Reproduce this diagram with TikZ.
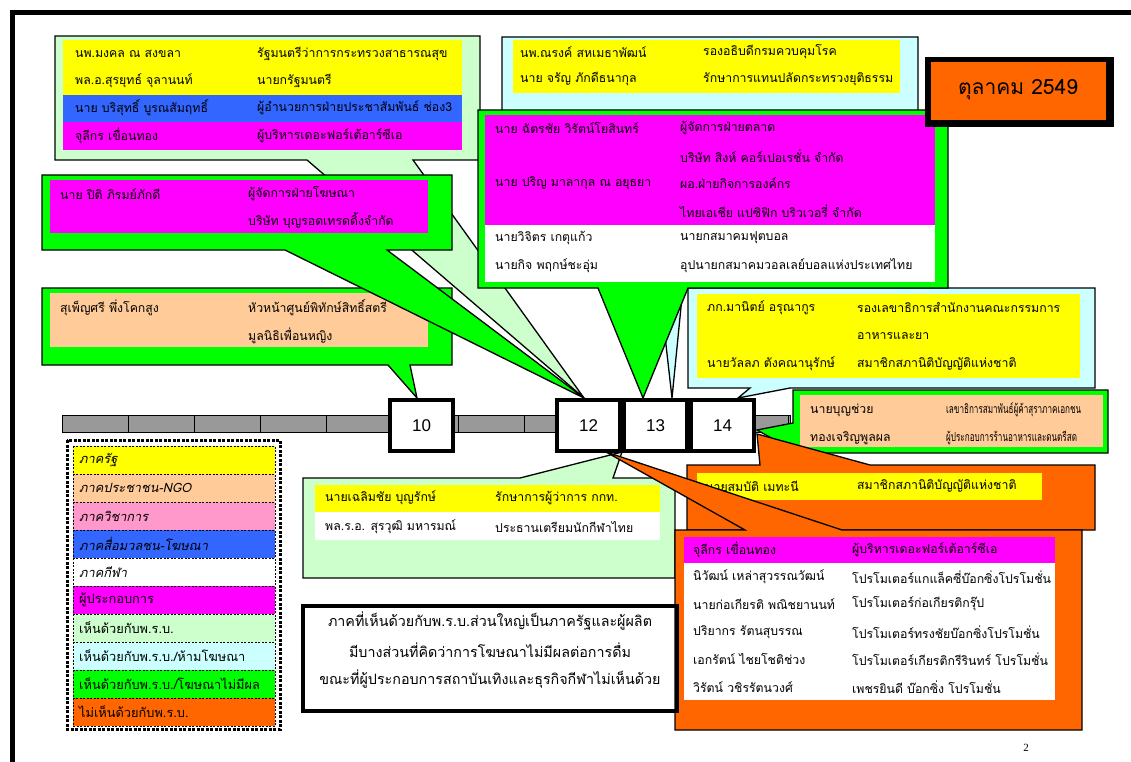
\documentclass[tikz,border=0pt]{standalone}
\usepackage{fontspec}
\newfontfamily\thai[Script=Thai]{Loma}
\newfontfamily\numfont{Liberation Sans}
\newfontfamily\pagefont{Liberation Serif}
\definecolor{cyellow}{HTML}{FFFF00}
\definecolor{cpeach}{HTML}{FFCC99}
\definecolor{cpink}{HTML}{FF99CC}
\definecolor{cblue}{HTML}{3366FF}
\definecolor{cmag}{HTML}{FF00FF}
\definecolor{cpale}{HTML}{CCFFCC}
\definecolor{ccyan}{HTML}{CCFFFF}
\definecolor{cgreen}{HTML}{00FF00}
\definecolor{corange}{HTML}{FF6600}
\definecolor{cgray}{HTML}{999999}
\begin{document}
\begin{tikzpicture}[x=1pt,y=-1pt,
  txt/.style={anchor=west,inner sep=0pt,font=\thai\fontsize{12.3}{14}\selectfont},
  ctxt/.style={inner sep=0pt,font=\thai\fontsize{14.3}{16}\selectfont},
  balloon/.style={draw=black,line width=1.3pt,line join=miter},
  daybox/.style={draw=black,line width=4pt,fill=white,minimum width=63pt,minimum height=51pt,
    inner sep=0pt,font=\numfont\fontsize{17}{19}\selectfont},
  legrow/.style={draw=black,line width=0.6pt,dash pattern=on 2pt off 1.5pt},
  legtxt/.style={anchor=west,inner sep=0pt,font=\thai\fontsize{12.8}{14}\selectfont},
  legit/.style={legtxt,font=\thai\fontsize{12.8}{14}\selectfont\itshape}]
\useasboundingbox (0,0) rectangle (1131,762);
\fill[white] (0,0) rectangle (1131,762);

% page frame
\fill[black] (10,10) rectangle (1131,15);
\fill[black] (10,10) rectangle (15,762);

% timeline bar
\filldraw[fill=cgray,draw=black,line width=0.8pt] (62,415) rectangle (790,432);
\foreach \x in {128,194,260,326,392,458,524,590,656,722,788}
  \draw[black,line width=0.8pt] (\x,415) -- (\x,432);

% pointer tips on the day boxes
\coordinate (t10) at (417,398);
\coordinate (t12) at (584,398);
\coordinate (t13) at (643,398);
\coordinate (t13r) at (672,398);
\coordinate (t14) at (738,398);
\coordinate (t14r) at (757,430);
\coordinate (t14s) at (757,434);
\coordinate (b12) at (606,452);
\coordinate (b12l) at (622,452);

% top-left balloon
\filldraw[balloon,fill=cpale] (55,36) -- (480,36) -- (480,160) -- (413,160) -- (t12) -- (307,160) -- (55,160) -- cycle;
\fill[cyellow] (63,40) rectangle (462,95);
\fill[cblue] (63,95) rectangle (462,122);
\fill[cmag] (63,122) rectangle (462,150);
\node[txt] (a1) at (75,54) {นพ.มงคล  ณ สงขลา};
\node[txt] (a2) at (257,54) {รัฐมนตรีว่าการกระทรวงสาธารณสุข};
\node[txt] (a3) at (75,81) {พล.อ.สุรยุทธ์  จุลานนท์};
\node[txt] (a4) at (257,81) {นายกรัฐมนตรี};
\node[txt] (a5) at (75,108) {นาย บริสุทธิ์ บูรณสัมฤทธิ์};
\node[txt] (a6) at (257,108) {ผู้อำนวยการฝ่ายประชาสัมพันธ์ ช่อง3};
\node[txt] (a7) at (75,136) {จุลีกร เขื่อนทอง};
\node[txt] (a8) at (257,136) {ผู้บริหารเดอะฟอร์เต้อาร์ซีเอ};

% top-middle balloon
\filldraw[balloon,fill=ccyan] (502,37) -- (918,37) -- (918,115) -- (700,115) -- (t13r) -- (640,115) -- (502,115) -- cycle;
\fill[cyellow] (513,40) rectangle (900,93);
\node[txt] (b1) at (520,52) {นพ.ณรงค์ สหเมธาพัฒน์};
\node[txt] (b2) at (703,52) {รองอธิบดีกรมควบคุมโรค};
\node[txt] (b3) at (520,79) {นาย จรัญ ภักดีธนากุล};
\node[txt] (b4) at (703,79) {รักษาการแทนปลัดกระทรวงยุติธรรม};

% right balloon
\filldraw[balloon,fill=ccyan] (688,288) -- (1095,288) -- (1095,388) -- (790,388) -- (t14) -- (750,388) -- (688,388) -- cycle;
\fill[cyellow] (697,294) rectangle (1080,378);
\node[txt] (c1) at (707,308) {ภก.มานิตย์ อรุณากูร};
\node[txt] (c2) at (857,308) {รองเลขาธิการสำนักงานคณะกรรมการ};
\node[txt] (c3) at (857,336) {อาหารและยา};
\node[txt] (c4) at (707,364) {นายวัลลภ  ตังคณานุรักษ์};
\node[txt] (c5) at (857,364) {สมาชิกสภานิติบัญญัติแห่งชาติ};

% left lower balloon
\filldraw[balloon,fill=cgreen] (42,288) -- (452,288) -- (452,365) -- (410,365) -- (t10) -- (388,365) -- (42,365) -- cycle;
\fill[cpeach] (50,293) rectangle (428,347);
\node[txt] (d1) at (60,308) {สุเพ็ญศรี พึ่งโคกสูง};
\node[txt] (d2) at (248,308) {หัวหน้าศูนย์พิทักษ์สิทธิ์สตรี};
\node[txt] (d3) at (248,336) {มูลนิธิเพื่อนหญิง};

% left upper balloon
\filldraw[balloon,fill=cgreen] (42,175) -- (452,175) -- (452,250) -- (387,250) -- (t12) -- (285,250) -- (42,250) -- cycle;
\fill[cmag] (50,180) rectangle (428,233);
\node[txt] (e1) at (60,194) {นาย ปิติ ภิรมย์ภักดี};
\node[txt] (e2) at (248,194) {ผู้จัดการฝ่ายโฆษณา};
\node[txt] (e3) at (248,221) {บริษัท บุญรอดเทรดดิ้งจำกัด};

% centre balloon
\filldraw[balloon,fill=cgreen] (478,110) -- (948,110) -- (948,288) -- (688,288) -- (t13) -- (598,288) -- (478,288) -- cycle;
\fill[cmag] (485,115) rectangle (935,225);
\fill[white] (485,225) rectangle (935,282);
\node[txt] (f1) at (495,128) {นาย ฉัตรชัย วิรัตน์โยสินทร์};
\node[txt] (f2) at (680,128) {ผู้จัดการฝ่ายตลาด};
\node[txt] (f3) at (680,156) {บริษัท สิงห์ คอร์เปอเรชั่น จำกัด};
\node[txt] (f4) at (495,183) {นาย ปริญ มาลากุล ณ อยุธยา};
\node[txt] (f5) at (680,183) {ผอ.ฝ่ายกิจการองค์กร};
\node[txt] (f6) at (680,211) {ไทยเอเชีย แปซิฟิก บริวเวอรี่ จำกัด};
\node[txt] (f7) at (495,238) {นายวิจิตร  เกตุแก้ว};
\node[txt] (f8) at (680,238) {นายกสมาคมฟุตบอล};
\node[txt] (f9) at (495,266) {นายกิจ  พฤกษ์ชะอุ่ม};
\node[txt] (f10) at (680,266) {อุปนายกสมาคมวอลเลย์บอลแห่งประเทศไทย};

% small right balloon
\filldraw[balloon,fill=cgreen] (793,390) -- (1108,390) -- (1108,453) -- (793,453) -- (793,450) -- (t14r) -- (793,423) -- cycle;
\fill[cpeach] (800,395) rectangle (1103,447);
\node[txt] (g1) at (810,410) {นายบุญช่วย};
\node[txt] (g2) at (810,438) {ทองเจริญพูลผล};
\node[txt] (g3) at (946,410) {\scalebox{0.66}[1]{เลขาธิการสมาพันธ์ผู้ค้าสุราภาคเอกชน}};
\node[txt] (g4) at (946,438) {\scalebox{0.66}[1]{ผู้ประกอบการร้านอาหารและดนตรีสด}};

% bottom-middle balloon
\filldraw[balloon,fill=cpale] (303,478) -- (520,478) -- (b12l) -- (613,478) -- (675,478) -- (675,578) -- (303,578) -- cycle;
\fill[cyellow] (315,485) rectangle (660,512);
\fill[white] (315,512) rectangle (660,540);
\node[txt] (h1) at (325,498) {นายเฉลิมชัย  บุญรักษ์};
\node[txt] (h2) at (495,498) {รักษาการผู้ว่าการ กกท.};
\node[txt] (h3) at (325,527) {พล.ร.อ. สุรวุฒิ มหารมณ์};
\node[txt] (h4) at (495,527) {ประธานเตรียมนักกีฬาไทย};

% orange upper balloon
\filldraw[balloon,fill=corange] (687,465) -- (760,465) -- (t14s) -- (870,465) -- (1095,465) -- (1095,530) -- (687,530) -- cycle;
\fill[cyellow] (697,473) rectangle (1042,500);
\node[txt] (i1) at (705,486) {นายสมบัติ  เมทะนี};
\node[txt] (i2) at (857,486) {สมาชิกสภานิติบัญญัติแห่งชาติ};

% orange lower balloon
\filldraw[balloon,fill=corange] (675,530) -- (745,530) -- (b12) -- (842,530) -- (1082,530) -- (1082,730) -- (675,730) -- cycle;
\fill[cmag] (684,537) rectangle (1055,563);
\fill[white] (684,563) rectangle (1055,700);
\node[txt] (j1) at (693,550) {จุลีกร เขื่อนทอง};
\node[txt] (j2) at (852,550) {ผู้บริหารเดอะฟอร์เต้อาร์ซีเอ};
\node[txt] (j3) at (693,577) {นิวัฒน์ เหล่าสุวรรณวัฒน์};
\node[txt] (j4) at (852,577) {โปรโมเตอร์แกแล็คซี่บ๊อกซิ่งโปรโมชั่น};
\node[txt] (j5) at (693,604) {นายก่อเกียรติ พณิชยานนท์};
\node[txt] (j6) at (852,604) {โปรโมเตอร์ก่อเกียรติกรุ๊ป};
\node[txt] (j7) at (693,632) {ปริยากร รัตนสุบรรณ};
\node[txt] (j8) at (852,632) {โปรโมเตอร์ทรงชัยบ๊อกซิ่งโปรโมชั่น};
\node[txt] (j9) at (693,659) {เอกรัตน์ ไชยโชติช่วง};
\node[txt] (j10) at (852,659) {โปรโมเตอร์เกียรติกรีรินทร์ โปรโมชั่น};
\node[txt] (j11) at (693,687) {วิรัตน์ วชิรรัตนวงศ์};
\node[txt] (j12) at (852,687) {เพชรยินดี บ๊อกซิ่ง โปรโมชั่น};

% day boxes
\node[daybox] (d10) at (421.5,425.5) {10};
\node[daybox] (d12) at (588.5,425.5) {12};
\node[daybox] (d13) at (655.5,425.5) {13};
\node[daybox] (d14) at (722.5,425.5) {14};

% legend
\draw[black,line width=3pt,dash pattern=on 3pt off 1.5pt] (67,440) rectangle (280,729);
\foreach \c [count=\k from 0] in {cyellow,cpeach,cpink,cblue,white,cmag,cpale,ccyan,cgreen,corange}
  \filldraw[legrow,fill=\c] (73,446+28*\k) rectangle (275,474+28*\k);
\node[legit] (l0) at (79,460) {ภาครัฐ};
\node[legit] (l1) at (79,488) {ภาคประชาชน-NGO};
\node[legit] (l2) at (79,516) {ภาควิชาการ};
\node[legit] (l3) at (79,544) {ภาคสื่อมวลชน-โฆษณา};
\node[legit] (l4) at (79,572) {ภาคกีฬา};
\node[legtxt] (l5) at (79,600) {ผู้ประกอบการ};
\node[legtxt] (l6) at (79,628) {เห็นด้วยกับพ.ร.บ.};
\node[legtxt] (l7) at (79,656) {เห็นด้วยกับพ.ร.บ./ห้ามโฆษณา};
\node[legtxt] (l8) at (79,684) {เห็นด้วยกับพ.ร.บ./โฆษณาไม่มีผล};
\node[legtxt] (l9) at (79,712) {ไม่เห็นด้วยกับพ.ร.บ.};

% summary box
\draw[black,line width=4pt] (303,606) rectangle (677,711);
\node[ctxt] (s1) at (490,621) {ภาคที่เห็นด้วยกับพ.ร.บ.ส่วนใหญ่เป็นภาครัฐและผู้ผลิต};
\node[ctxt] (s2) at (490,650) {มีบางส่วนที่คิดว่าการโฆษณาไม่มีผลต่อการดื่ม};
\node[ctxt] (s3) at (490,679) {ขณะที่ผู้ประกอบการสถาบันเทิงและธุรกิจกีฬาไม่เห็นด้วย};

% date box
\fill[black] (925,57) rectangle (1114,127);
\fill[corange] (931,62) rectangle (1106,120);
\node[inner sep=0pt,font=\thai\fontsize{21}{23}\selectfont] (date) at (1018,90) {ตุลาคม  2549};

% page number
\node[inner sep=0pt,font=\pagefont\fontsize{11}{12}\selectfont] (pg) at (1026,748) {2};
\end{tikzpicture}
\end{document}
